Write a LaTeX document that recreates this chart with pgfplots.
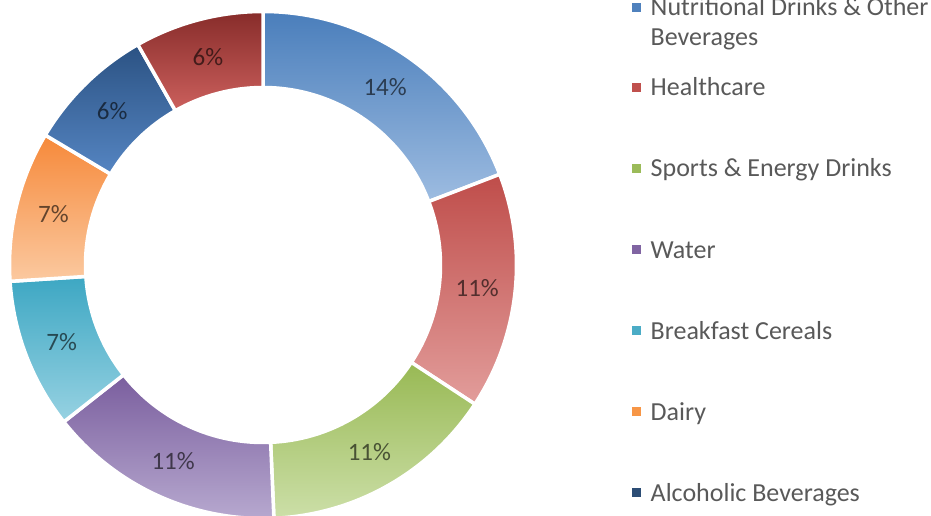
\documentclass[border=0pt]{standalone}
\usepackage{pgfplots}
\pgfplotsset{compat=1.18}
\usepackage{pgfplotstable}
\usepackage{fontspec}
\setmainfont{Carlito}

\definecolor{nutT}{HTML}{4A7EBB}\definecolor{nutB}{HTML}{9DBCE1}
\definecolor{hcT}{HTML}{BF4D4A}\definecolor{hcB}{HTML}{E29D9B}
\definecolor{spT}{HTML}{98B954}\definecolor{spB}{HTML}{CCDFA8}
\definecolor{waT}{HTML}{7A5E9E}\definecolor{waB}{HTML}{B8AAD0}
\definecolor{brT}{HTML}{3DA7C3}\definecolor{brB}{HTML}{97D2E2}
\definecolor{daT}{HTML}{F6893A}\definecolor{daB}{HTML}{FBC9A0}
\definecolor{alT}{HTML}{2B5283}\definecolor{alB}{HTML}{5585C2}
\definecolor{otT}{HTML}{872C2A}\definecolor{otB}{HTML}{CC605D}
\definecolor{legtext}{HTML}{595959}
\definecolor{nutM}{HTML}{4F81BD}\definecolor{hcM}{HTML}{C0504D}
\definecolor{spM}{HTML}{9BBB59}\definecolor{waM}{HTML}{8064A2}
\definecolor{brM}{HTML}{4BACC6}\definecolor{daM}{HTML}{F79646}
\definecolor{alM}{HTML}{2C4D75}

% clockwise from the top
\pgfplotstableread{
value top bot
14 nutT nutB
11 hcT hcB
11 spT spB
11 waT waB
7 brT brB
7 daT daB
6 alT alB
6 otT otB
}\donutdata

\pgfplotstableread[col sep=comma]{
name,base,col
Nutritional Drinks \& Other,16,nutM
Healthcare,96,hcM
Sports \& Energy Drinks,177,spM
Water,258,waM
Breakfast Cereals,339,brM
Dairy,420,daM
Alcoholic Beverages,501,alM
}\legdata

\newcommand\cx{263}
\newcommand\cy{250}
\newcommand\Ro{253.5}
\newcommand\Ri{177.5}
\newcommand\Rl{215.5}

\newcommand\sector[5]{%
  \path[top color=#3, bottom color=#4, draw=white, line width=3.5pt, line join=round]
    (axis cs:{\cx+\Ro*cos(#1)},{\cy+\Ro*sin(#1)})
    arc[start angle=#1, end angle=#2, radius=\Ro pt]
    -- (axis cs:{\cx+\Ri*cos(#2)},{\cy+\Ri*sin(#2)})
    arc[start angle=#2, end angle=#1, radius=\Ri pt] -- cycle;
  \node[font=\fontsize{25}{30}\selectfont, text=black, text opacity=0.6, inner sep=0pt]
    at (axis cs:{\cx+\Rl*cos((#1+#2)/2)},{\cy+\Rl*sin((#1+#2)/2)}) {#5\%};
}
\newcommand\legitem[3]{%
  \fill[#3] (axis cs:632,{515-#2+4}) rectangle (axis cs:641,{515-#2+13});
  \node[anchor=base west, inner sep=0pt, text=legtext, font=\fontsize{26}{31}\selectfont]
    at (axis cs:650.5,{515-#2}) {#1};
}

% build the list of sectors from the table (cumulative angles)
\pgfplotstablegetrowsof{\donutdata}
\pgfmathtruncatemacro\nrows{\pgfplotsretval-1}
\gdef\dtotal{0}
\pgfplotsforeachungrouped \i in {0,...,\nrows}{%
  \pgfplotstablegetelem{\i}{value}\of\donutdata
  \pgfmathsetmacro\tmp{\dtotal+\pgfplotsretval}%
  \xdef\dtotal{\tmp}%
}
\pgfmathsetmacro\dscale{360/\dtotal}
\gdef\dcum{0}
\gdef\sectorlist{}
\pgfplotsforeachungrouped \i in {0,...,\nrows}{%
  \pgfplotstablegetelem{\i}{value}\of\donutdata \edef\dval{\pgfplotsretval}%
  \pgfplotstablegetelem{\i}{top}\of\donutdata \edef\dct{\pgfplotsretval}%
  \pgfplotstablegetelem{\i}{bot}\of\donutdata \edef\dcb{\pgfplotsretval}%
  \pgfmathsetmacro\aone{90-\dscale*\dcum}%
  \pgfmathsetmacro\tmp{\dcum+\dval}%
  \xdef\dcum{\tmp}%
  \pgfmathsetmacro\atwo{90-\dscale*\dcum}%
  \xdef\sectorlist{\unexpanded\expandafter{\sectorlist}\noexpand\sector{\aone}{\atwo}{\dct}{\dcb}{\dval}}%
}
\pgfplotstablegetrowsof{\legdata}
\pgfmathtruncatemacro\nleg{\pgfplotsretval-1}
\gdef\leglist{}
\pgfplotsforeachungrouped \i in {0,...,\nleg}{%
  \pgfplotstablegetelem{\i}{name}\of\legdata \let\lnm\pgfplotsretval
  \pgfplotstablegetelem{\i}{base}\of\legdata \edef\lbs{\pgfplotsretval}%
  \pgfplotstablegetelem{\i}{col}\of\legdata \edef\lcl{\pgfplotsretval}%
  \xdef\leglist{\unexpanded\expandafter{\leglist}\noexpand\legitem{\unexpanded\expandafter{\lnm}}{\lbs}{\lcl}}%
}

\begin{document}
\begin{tikzpicture}
\path[use as bounding box] (0pt,0pt) rectangle (931pt,515pt);
\begin{axis}[overlay, x=1pt, y=1pt, xmin=0, xmax=931, ymin=0, ymax=515,
  hide axis, scale only axis, anchor=origin, at={(0pt,0pt)}, clip=false]
\sectorlist
\leglist
\node[anchor=base west, inner sep=0pt, text=legtext, font=\fontsize{26}{31}\selectfont]
  at (axis cs:650.5,469) {Beverages};
\end{axis}
\end{tikzpicture}
\end{document}
